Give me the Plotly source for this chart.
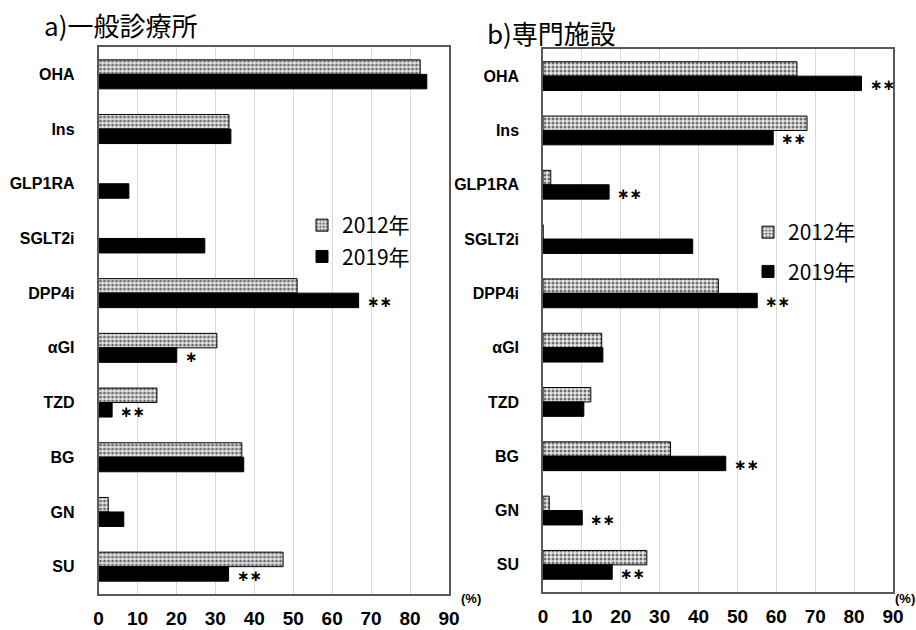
import plotly.graph_objects as go

categories = ["OHA", "Ins", "GLP1RA", "SGLT2i", "DPP4i", "αGI", "TZD", "BG", "GN", "SU"]
series_names = ["2012年", "2019年"]

gp_2012 = [82.6, 33.5, 0, 0, 51.0, 30.4, 15.0, 36.8, 2.5, 47.4]
gp_2019 = [84.3, 34.0, 7.8, 27.3, 66.8, 20.1, 3.5, 37.3, 6.5, 33.4]
gp_sig = ["", "", "", "", "∗∗", "∗", "∗∗", "", "", "∗∗"]

sp_2012 = [65.3, 67.9, 2.0, 0, 45.1, 15.1, 12.3, 32.8, 1.6, 26.7]
sp_2019 = [81.9, 59.2, 17.0, 38.5, 55.1, 15.4, 10.5, 47.0, 10.1, 17.8]
sp_sig = ["∗∗", "∗∗", "∗∗", "", "∗∗", "", "", "∗∗", "∗∗", "∗∗"]

x_ticks = [0, 10, 20, 30, 40, 50, 60, 70, 80, 90]
titles = ["a)一般診療所", "b)専門施設"]

W, H = 916, 630
CJK = "Noto Sans CJK JP"

pattern_2012 = dict(shape=".", fgcolor="#6e6e6e", bgcolor="#e6e6e6",
                    size=4, solidity=0.45, fillmode="replace")

fig = go.Figure()

panels = [
    (gp_2012, gp_2019, gp_sig, "x", "y", "legend"),
    (sp_2012, sp_2019, sp_sig, "x2", "y2", "legend2"),
]
for v12, v19, sig, xa, ya, lg in panels:
    fig.add_trace(go.Bar(
        y=categories, x=v12, orientation="h", name=series_names[0],
        xaxis=xa, yaxis=ya, legend=lg, legendgroup=lg + "a",
        marker=dict(color="#e6e6e6", pattern=pattern_2012,
                    line=dict(color="#000000", width=1)),
    ))
    fig.add_trace(go.Bar(
        y=categories, x=v19, orientation="h", name=series_names[1],
        xaxis=xa, yaxis=ya, legend=lg, legendgroup=lg + "b",
        marker=dict(color="#000000", line=dict(color="#000000", width=1)),
    ))
    for c, val, s in zip(categories, v19, sig):
        if s:
            fig.add_annotation(
                x=val, y=c, xref=xa, yref=ya, text=s, showarrow=False,
                xanchor="left", yanchor="middle", xshift=6, yshift=-9,
                font=dict(family="DejaVu Sans", size=15, color="#000000",
                          weight="bold"),
            )

axis_common = dict(
    range=[0, 90], tickvals=x_ticks, showgrid=True, gridcolor="#d9d9d9",
    gridwidth=1, showline=True, linecolor="#595959", linewidth=1.5,
    mirror=True, ticks="", zeroline=False, automargin=False,
    tickfont=dict(family="Liberation Sans", size=19, color="#000000", weight="bold"),
    ticklabelstandoff=6, fixedrange=True,
)
yaxis_common = dict(
    autorange="reversed", showgrid=False, showline=True, linecolor="#595959",
    linewidth=1.5, mirror=True, ticks="", automargin=False,
    tickfont=dict(family="Liberation Sans", size=16, color="#000000", weight="bold"),
    ticklabelstandoff=19, fixedrange=True,
)

fig.update_layout(
    width=W, height=H, margin=dict(l=0, r=0, t=0, b=0, autoexpand=False),
    paper_bgcolor="#ffffff", plot_bgcolor="#ffffff",
    barmode="group", bargap=0.47, bargroupgap=0.0,
    xaxis=dict(domain=[98.5 / W, 449 / W], anchor="y", **axis_common),
    yaxis=dict(domain=[1 - 594 / H, 1 - 47 / H], anchor="x", **yaxis_common),
    xaxis2=dict(domain=[543 / W, 893 / W], anchor="y2", **axis_common),
    yaxis2=dict(domain=[1 - 592 / H, 1 - 49 / H], anchor="x2", **yaxis_common),
    legend=dict(x=302 / W, y=1 - 205 / H, xanchor="left", yanchor="top",
                bgcolor="rgba(0,0,0,0)", itemwidth=30, tracegroupgap=1,
                font=dict(family=CJK, size=21, color="#000000")),
    legend2=dict(x=748 / W, y=1 - 212 / H, xanchor="left", yanchor="top",
                 bgcolor="rgba(0,0,0,0)", itemwidth=30, tracegroupgap=9,
                 font=dict(family=CJK, size=21, color="#000000")),
    showlegend=True,
)

fig.add_annotation(x=42 / W, y=1 - 25 / H, xref="paper", yref="paper",
                   text=titles[0], showarrow=False, xanchor="left", yanchor="middle",
                   font=dict(family=CJK, size=26, color="#000000"))
fig.add_annotation(x=485 / W, y=1 - 32 / H, xref="paper", yref="paper",
                   text=titles[1], showarrow=False, xanchor="left", yanchor="middle",
                   font=dict(family=CJK, size=26, color="#000000"))
for xp in (471, 905):
    fig.add_annotation(x=xp / W, y=1 - 598 / H, xref="paper", yref="paper",
                       text="(%)", showarrow=False, xanchor="center", yanchor="middle",
                       font=dict(family="Liberation Sans", size=13, color="#000000",
                                 weight="bold"))

fig.write_html("out.html", post_script="document.body.style.margin='0';",
               config={"displayModeBar": False})
